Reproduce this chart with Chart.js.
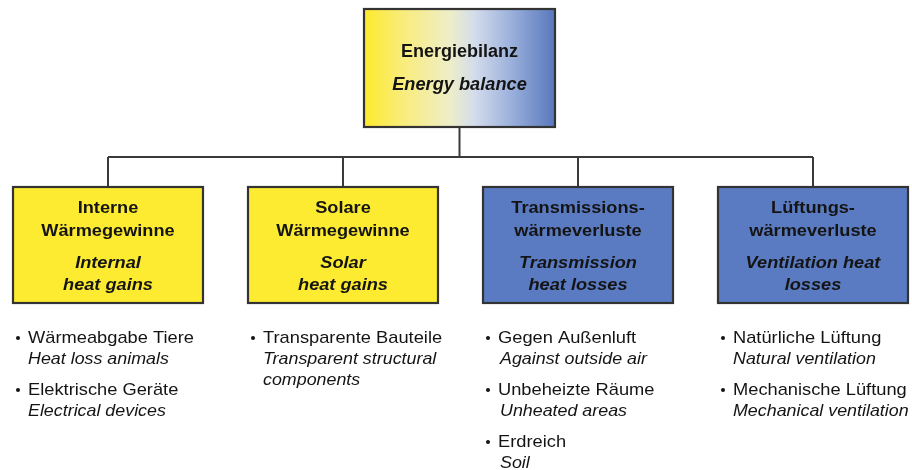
<!DOCTYPE html>
<html><head><meta charset="utf-8">
<script src="https://cdn.jsdelivr.net/npm/chart.js@4"></script>
<style>html,body{margin:0;padding:0;background:#fff}#wrap{width:912px;height:470px;position:relative}</style>
</head><body><div id="wrap"><canvas id="c"></canvas></div>
<script>
// ---- content ----
const rootTitle = "Energiebilanz";
const rootSubtitle = "Energy balance";
const categoriesDE = [["Interne","Wärmegewinne"],["Solare","Wärmegewinne"],["Transmissions-","wärmeverluste"],["Lüftungs-","wärmeverluste"]];
const categoriesEN = [["Internal","heat gains"],["Solar","heat gains"],["Transmission","heat losses"],["Ventilation heat","losses"]];
const categoryKind = ["gain","gain","loss","loss"];
const itemsDE = [["Wärmeabgabe Tiere","Elektrische Geräte"],["Transparente Bauteile"],["Gegen Außenluft","Unbeheizte Räume","Erdreich"],["Natürliche Lüftung","Mechanische Lüftung"]];
const itemsEN = [[["Heat loss animals"],["Electrical devices"]],[["Transparent structural","components"]],[["Against outside air"],["Unheated areas"],["Soil"]],[["Natural ventilation"],["Mechanical ventilation"]]];

// ---- layout / style ----
const W = 912, H = 470;
const root = {x0:364, x1:555, y0:9, y1:127};
const boxW = 190, boxY0 = 187, boxY1 = 303, boxLeft0 = 13, boxStep = 235;
const busY = 157;
const colors = {gain:"#FCEB30", loss:"#5A7BC1", border:"#333333", line:"#3a3a3a", text:"#141414"};
const FONT = '"Liberation Sans", Arial, sans-serif';

const centers = categoriesDE.map((_, i) => boxLeft0 + i*boxStep + boxW/2);
const rootCx = (root.x0 + root.x1)/2;

const lineDatasets = [
  {data:[{x:rootCx,y:root.y1},{x:rootCx,y:busY}]},
  {data:[{x:centers[0],y:busY},{x:centers[centers.length-1],y:busY}]},
  ...centers.map(cx => ({data:[{x:cx,y:busY},{x:cx,y:boxY0}]}))
].map(d => Object.assign(d, {showLine:true, borderColor:colors.line, borderWidth:2, pointRadius:0, fill:false}));

const diagram = {
  id:'diagram',
  afterDatasetsDraw(chart){
    const ctx = chart.ctx, xs = chart.scales.x, ys = chart.scales.y;
    const px = v => xs.getPixelForValue(v), py = v => ys.getPixelForValue(v);
    ctx.save();
    function box(x0,y0,x1,y1,fill){
      ctx.fillStyle = fill;
      ctx.fillRect(px(x0),py(y0),px(x1)-px(x0),py(y1)-py(y0));
      ctx.lineWidth = 2.2; ctx.strokeStyle = colors.border;
      ctx.strokeRect(px(x0),py(y0),px(x1)-px(x0),py(y1)-py(y0));
    }
    function txt(t, x, y, align, sx){
      ctx.save();
      ctx.translate(x, y); ctx.scale(sx, 1);
      ctx.textAlign = align; ctx.fillText(t, 0, 0);
      ctx.restore();
    }
    const g = ctx.createLinearGradient(px(root.x0),0,px(root.x1),0);
    g.addColorStop(0,"#FDEA2C"); g.addColorStop(0.2,"#F9EC7A"); g.addColorStop(0.45,"#EEEEC8");
    g.addColorStop(0.58,"#D3DCEC"); g.addColorStop(0.78,"#98AEDA"); g.addColorStop(1,"#5877BD");
    box(root.x0,root.y0,root.x1,root.y1,g);
    ctx.fillStyle = colors.text; ctx.textBaseline='middle';
    ctx.font = 'bold 17.5px '+FONT; txt(rootTitle, px(rootCx), py(52), 'center', 1.03);
    ctx.font = 'italic bold 17.5px '+FONT; txt(rootSubtitle, px(rootCx), py(85), 'center', 1.04);

    categoriesDE.forEach((de,i)=>{
      const x0 = boxLeft0 + i*boxStep;
      box(x0,boxY0,x0+boxW,boxY1,colors[categoryKind[i]]);
      const cx = px(x0+boxW/2);
      ctx.fillStyle = colors.text;
      ctx.font = 'bold 17px '+FONT;
      txt(de[0], cx, py(208), 'center', 1.07); txt(de[1], cx, py(231), 'center', 1.07);
      ctx.font = 'italic bold 17px '+FONT;
      txt(categoriesEN[i][0], cx, py(263), 'center', 1.07); txt(categoriesEN[i][1], cx, py(285), 'center', 1.07);

      // bullet lists
      let y = 338;
      const bx = x0 + 5, tx = x0 + 15;
      itemsDE[i].forEach((it,k)=>{
        ctx.fillStyle = colors.text;
        ctx.beginPath(); ctx.arc(px(bx), py(y), 2, 0, Math.PI*2); ctx.fill();
        ctx.font = '17px '+FONT; txt(it, px(tx), py(y), 'left', 1.075);
        ctx.font = 'italic 17px '+FONT;
        const en = itemsEN[i][k];
        en.forEach((t,j)=>{ txt(t, px(tx + (i===2?2:0)), py(y + 21*(j+1)), 'left', 1.05); });
        y += 21*(en.length+1) + 10;
      });
    });
    ctx.restore();
  }
};

new Chart(document.getElementById('c'), {
  type:'scatter',
  data:{datasets:lineDatasets},
  options:{
    responsive:true, maintainAspectRatio:false, animation:false,
    layout:{padding:0},
    plugins:{legend:{display:false}, tooltip:{enabled:false}},
    scales:{
      x:{type:'linear', min:0, max:W, display:false},
      y:{type:'linear', min:0, max:H, reverse:true, display:false}
    }
  },
  plugins:[diagram]
});
</script></body></html>
